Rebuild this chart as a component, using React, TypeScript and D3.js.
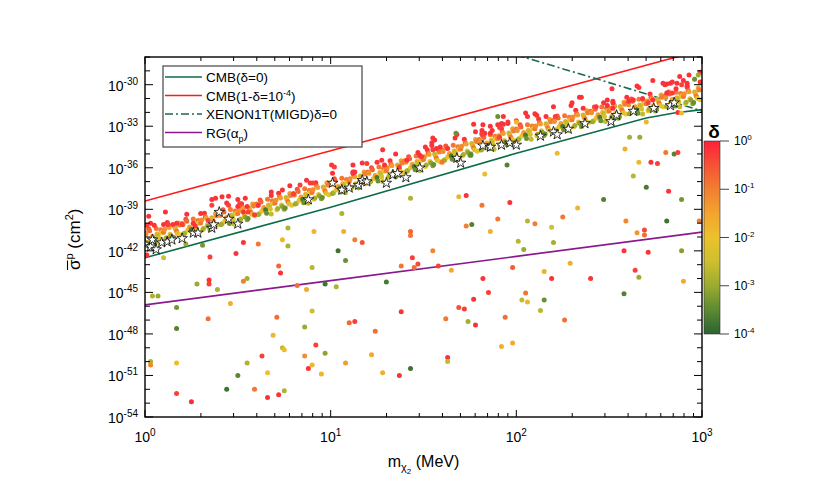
import React from 'react';
import * as d3 from 'd3';

// all curve / point values are [log10 m (MeV), log10 sigma (cm^2)] or [.., .., log10 delta]
const massTicks = [1, 10, 100, 1000];
const sigmaMajorExps = [-54, -51, -48, -45, -42, -39, -36, -33, -30];
const deltaTickExps = [0, -1, -2, -3, -4];

const cmbZero = [[0, -42.5], [1, -38.85], [2, -34.95], [2.7, -32.4], [2.85, -32.05], [3, -31.8]];
const cmbNearOne = [[0, -38.4], [1, -34.77], [2, -31.14], [3, -27.5]];
const xenonMigd = [[2.0, -27.85], [2.5, -29.85], [3.0, -31.9]];
const redGiant = [[0, -45.9], [1, -44.15], [2, -42.4], [3, -40.65]];

const bandPoints = [
  [0.00,-40.7,-0.9],[0.01,-41.45,-3.1],[0.02,-40.4,-0.5],[0.03,-41.2,-2.0],[0.04,-40.95,-1.4],
  [0.05,-41.13,-3.7],[0.06,-40.38,-0.9],[0.07,-40.88,-2.6],[0.08,-41.43,-2.6],[0.09,-40.68,-2.0],
  [0.10,-40.66,-0.9],[0.11,-41.16,-2.0],[0.12,-39.96,-0.2],[0.13,-40.31,-1.4],[0.14,-40.91,-3.1],
  [0.15,-41.14,-3.1],[0.16,-40.29,-2.6],[0.17,-40.59,-0.9],[0.18,-39.99,-1.4],[0.19,-40.84,-2.0],
  [0.20,-40.02,-0.9],[0.21,-40.77,-3.1],[0.22,-39.72,-0.5],[0.23,-40.52,-2.0],[0.24,-40.27,-1.4],
  [0.25,-40.45,-3.7],[0.26,-39.7,-0.9],[0.27,-40.2,-2.6],[0.28,-40.75,-2.6],[0.29,-40.0,-2.0],
  [0.30,-39.98,-0.9],[0.31,-40.48,-2.0],[0.32,-39.28,-0.2],[0.33,-39.63,-1.4],[0.34,-40.23,-3.1],
  [0.35,-40.46,-3.1],[0.36,-39.61,-2.6],[0.37,-39.91,-0.9],[0.38,-39.31,-1.4],[0.39,-40.16,-2.0],
  [0.40,-39.34,-0.9],[0.41,-40.09,-3.1],[0.42,-39.04,-0.5],[0.43,-39.84,-2.0],[0.44,-39.59,-1.4],
  [0.45,-39.77,-3.7],[0.46,-39.02,-0.9],[0.47,-39.52,-2.6],[0.48,-40.07,-2.6],[0.49,-39.32,-2.0],
  [0.50,-39.3,-0.9],[0.51,-39.8,-2.0],[0.52,-38.6,-0.2],[0.53,-38.95,-1.4],[0.54,-39.55,-3.1],
  [0.55,-39.76,-3.1],[0.56,-38.91,-2.6],[0.57,-39.21,-0.9],[0.58,-38.61,-1.4],[0.59,-39.46,-2.0],
  [0.60,-38.62,-0.9],[0.61,-39.37,-3.1],[0.62,-38.32,-0.5],[0.63,-39.12,-2.0],[0.64,-38.87,-1.4],
  [0.65,-39.03,-3.7],[0.66,-38.28,-0.9],[0.67,-38.78,-2.6],[0.68,-39.33,-2.6],[0.69,-38.58,-2.0],
  [0.70,-38.54,-0.9],[0.71,-39.04,-2.0],[0.72,-37.84,-0.2],[0.73,-38.19,-1.4],[0.74,-38.79,-3.1],
  [0.75,-39.0,-3.1],[0.76,-38.15,-2.6],[0.77,-38.45,-0.9],[0.78,-37.85,-1.4],[0.79,-38.7,-2.0],
  [0.80,-37.86,-0.9],[0.81,-38.61,-3.1],[0.82,-37.56,-0.5],[0.83,-38.36,-2.0],[0.84,-38.11,-1.4],
  [0.85,-38.27,-3.7],[0.86,-37.52,-0.9],[0.87,-38.02,-2.6],[0.88,-38.57,-2.6],[0.89,-37.82,-2.0],
  [0.90,-37.78,-0.9],[0.91,-38.28,-2.0],[0.92,-37.08,-0.2],[0.93,-37.43,-1.4],[0.94,-38.03,-3.1],
  [0.95,-38.24,-3.1],[0.96,-37.39,-2.6],[0.97,-37.69,-0.9],[0.98,-37.09,-1.4],[0.99,-37.94,-2.0],
  [1.00,-37.1,-0.9],[1.01,-37.85,-3.1],[1.02,-36.8,-0.5],[1.03,-37.6,-2.0],[1.04,-37.35,-1.4],
  [1.05,-37.5,-3.7],[1.06,-36.75,-0.9],[1.07,-37.25,-2.6],[1.08,-37.8,-2.6],[1.09,-37.05,-2.0],
  [1.10,-37.0,-0.9],[1.11,-37.5,-2.0],[1.12,-36.3,-0.2],[1.13,-36.65,-1.4],[1.14,-37.25,-3.1],
  [1.15,-37.45,-3.1],[1.16,-36.6,-2.6],[1.17,-36.9,-0.9],[1.18,-36.3,-1.4],[1.19,-37.15,-2.0],
  [1.20,-36.3,-0.9],[1.21,-37.05,-3.1],[1.22,-36.0,-0.5],[1.23,-36.8,-2.0],[1.24,-36.55,-1.4],
  [1.25,-36.7,-3.7],[1.26,-35.95,-0.9],[1.27,-36.45,-2.6],[1.28,-37.0,-2.6],[1.29,-36.25,-2.0],
  [1.30,-36.2,-0.9],[1.31,-36.7,-2.0],[1.32,-35.5,-0.2],[1.33,-35.85,-1.4],[1.34,-36.45,-3.1],
  [1.35,-36.65,-3.1],[1.36,-35.8,-2.6],[1.37,-36.1,-0.9],[1.38,-35.5,-1.4],[1.39,-36.35,-2.0],
  [1.40,-35.5,-0.9],[1.41,-36.25,-3.1],[1.42,-35.2,-0.5],[1.43,-36.0,-2.0],[1.44,-35.75,-1.4],
  [1.45,-35.9,-3.7],[1.46,-35.15,-0.9],[1.47,-35.65,-2.6],[1.48,-36.2,-2.6],[1.49,-35.45,-2.0],
  [1.50,-35.4,-0.9],[1.51,-35.9,-2.0],[1.52,-34.7,-0.2],[1.53,-35.05,-1.4],[1.54,-35.65,-3.1],
  [1.55,-35.86,-3.1],[1.56,-35.01,-2.6],[1.57,-35.31,-0.9],[1.58,-34.71,-1.4],[1.59,-35.56,-2.0],
  [1.60,-34.72,-0.9],[1.61,-35.47,-3.1],[1.62,-34.42,-0.5],[1.63,-35.22,-2.0],[1.64,-34.97,-1.4],
  [1.65,-35.13,-3.7],[1.66,-34.38,-0.9],[1.67,-34.88,-2.6],[1.68,-35.43,-2.6],[1.69,-34.68,-2.0],
  [1.70,-34.64,-0.9],[1.71,-35.14,-2.0],[1.72,-33.94,-0.2],[1.73,-34.29,-1.4],[1.74,-34.89,-3.1],
  [1.75,-35.1,-3.1],[1.76,-34.25,-2.6],[1.77,-34.55,-0.9],[1.78,-33.95,-1.4],[1.79,-34.8,-2.0],
  [1.80,-33.96,-0.9],[1.81,-34.71,-3.1],[1.82,-33.66,-0.5],[1.83,-34.46,-2.0],[1.84,-34.21,-1.4],
  [1.85,-34.37,-3.7],[1.86,-33.62,-0.9],[1.87,-34.12,-2.6],[1.88,-34.67,-2.6],[1.89,-33.92,-2.0],
  [1.90,-33.88,-0.9],[1.91,-34.38,-2.0],[1.92,-33.18,-0.2],[1.93,-33.53,-1.4],[1.94,-34.13,-3.1],
  [1.95,-34.34,-3.1],[1.96,-33.49,-2.6],[1.97,-33.79,-0.9],[1.98,-33.19,-1.4],[1.99,-34.04,-2.0],
  [2.00,-33.2,-0.9],[2.01,-33.95,-3.1],[2.02,-32.9,-0.5],[2.03,-33.7,-2.0],[2.04,-33.45,-1.4],
  [2.05,-33.64,-3.7],[2.06,-32.89,-0.9],[2.07,-33.39,-2.6],[2.08,-33.94,-2.6],[2.09,-33.19,-2.0],
  [2.10,-33.18,-0.9],[2.11,-33.68,-2.0],[2.12,-32.48,-0.2],[2.13,-32.83,-1.4],[2.14,-33.43,-3.1],
  [2.15,-33.67,-3.1],[2.16,-32.82,-2.6],[2.17,-33.12,-0.9],[2.18,-32.52,-1.4],[2.19,-33.37,-2.0],
  [2.20,-32.56,-0.9],[2.21,-33.31,-3.1],[2.22,-32.26,-0.5],[2.23,-33.06,-2.0],[2.24,-32.81,-1.4],
  [2.25,-33.0,-3.7],[2.26,-32.25,-0.9],[2.27,-32.75,-2.6],[2.28,-33.3,-2.6],[2.29,-32.55,-2.0],
  [2.30,-32.54,-0.9],[2.31,-33.04,-2.0],[2.32,-31.84,-0.2],[2.33,-32.19,-1.4],[2.34,-32.79,-3.1],
  [2.35,-33.03,-3.1],[2.36,-32.18,-2.6],[2.37,-32.48,-0.9],[2.38,-31.88,-1.4],[2.39,-32.73,-2.0],
  [2.40,-31.92,-0.9],[2.41,-32.67,-3.1],[2.42,-31.62,-0.5],[2.43,-32.42,-2.0],[2.44,-32.17,-1.4],
  [2.45,-32.36,-3.7],[2.46,-31.61,-0.9],[2.47,-32.11,-2.6],[2.48,-32.66,-2.6],[2.49,-31.91,-2.0],
  [2.50,-31.9,-0.9],[2.51,-32.4,-2.0],[2.52,-31.2,-0.2],[2.53,-31.55,-1.4],[2.54,-32.15,-3.1],
  [2.55,-32.42,-3.1],[2.56,-31.57,-2.6],[2.57,-31.87,-0.9],[2.58,-31.27,-1.4],[2.59,-32.12,-2.0],
  [2.60,-31.34,-0.9],[2.61,-32.09,-3.1],[2.62,-31.04,-0.5],[2.63,-31.84,-2.0],[2.64,-31.59,-1.4],
  [2.65,-31.81,-3.7],[2.66,-31.06,-0.9],[2.67,-31.56,-2.6],[2.68,-32.11,-2.6],[2.69,-31.36,-2.0],
  [2.70,-31.38,-0.9],[2.71,-31.88,-2.0],[2.72,-30.68,-0.2],[2.73,-31.03,-1.4],[2.74,-31.63,-3.1],
  [2.75,-31.9,-3.1],[2.76,-31.05,-2.6],[2.77,-31.35,-0.9],[2.78,-30.75,-1.4],[2.79,-31.6,-2.0],
  [2.80,-30.82,-0.9],[2.81,-31.57,-3.1],[2.82,-30.52,-0.5],[2.83,-31.32,-2.0],[2.84,-31.07,-1.4],
  [2.85,-31.29,-3.7],[2.86,-30.54,-0.9],[2.87,-31.04,-2.6],[2.88,-31.59,-2.6],[2.89,-30.84,-2.0],
  [2.90,-30.86,-0.9],[2.91,-31.36,-2.0],[2.92,-30.16,-0.2],[2.93,-30.51,-1.4],[2.94,-31.11,-3.1],
  [2.95,-31.38,-3.1],[2.96,-30.53,-2.6],[2.97,-30.83,-0.9],[2.98,-30.23,-1.4],[2.99,-31.08,-2.0],
];

// second layer of the dense band, read between the first
const bandFill = [
  [0.005,-40.8,-1.2],[0.015,-41.4,-2.9],[0.025,-40.55,-0.7],[0.035,-41.15,-1.9],
  [0.055,-41.38,-3.4],[0.065,-40.78,-1.6],[0.075,-41.08,-2.3],[0.085,-40.48,-1.0],
  [0.105,-40.46,-1.2],[0.115,-41.06,-2.9],[0.125,-40.21,-0.7],[0.135,-40.81,-1.9],
  [0.155,-41.04,-3.4],[0.165,-40.44,-1.6],[0.175,-40.74,-2.3],[0.185,-40.14,-1.0],
  [0.205,-40.12,-1.2],[0.215,-40.72,-2.9],[0.225,-39.87,-0.7],[0.235,-40.47,-1.9],
  [0.255,-40.7,-3.4],[0.265,-40.1,-1.6],[0.275,-40.4,-2.3],[0.285,-39.8,-1.0],
  [0.305,-39.78,-1.2],[0.315,-40.38,-2.9],[0.325,-39.53,-0.7],[0.335,-40.13,-1.9],
  [0.355,-40.36,-3.4],[0.365,-39.76,-1.6],[0.375,-40.06,-2.3],[0.385,-39.46,-1.0],
  [0.405,-39.44,-1.2],[0.415,-40.04,-2.9],[0.425,-39.19,-0.7],[0.435,-39.79,-1.9],
  [0.455,-40.02,-3.4],[0.465,-39.42,-1.6],[0.475,-39.72,-2.3],[0.485,-39.12,-1.0],
  [0.505,-39.1,-1.2],[0.515,-39.7,-2.9],[0.525,-38.85,-0.7],[0.535,-39.45,-1.9],
  [0.555,-39.66,-3.4],[0.565,-39.06,-1.6],[0.575,-39.36,-2.3],[0.585,-38.76,-1.0],
  [0.605,-38.72,-1.2],[0.615,-39.32,-2.9],[0.625,-38.47,-0.7],[0.635,-39.07,-1.9],
  [0.655,-39.28,-3.4],[0.665,-38.68,-1.6],[0.675,-38.98,-2.3],[0.685,-38.38,-1.0],
  [0.705,-38.34,-1.2],[0.715,-38.94,-2.9],[0.725,-38.09,-0.7],[0.735,-38.69,-1.9],
  [0.755,-38.9,-3.4],[0.765,-38.3,-1.6],[0.775,-38.6,-2.3],[0.785,-38.0,-1.0],
  [0.805,-37.96,-1.2],[0.815,-38.56,-2.9],[0.825,-37.71,-0.7],[0.835,-38.31,-1.9],
  [0.855,-38.52,-3.4],[0.865,-37.92,-1.6],[0.875,-38.22,-2.3],[0.885,-37.62,-1.0],
  [0.905,-37.58,-1.2],[0.915,-38.18,-2.9],[0.925,-37.33,-0.7],[0.935,-37.93,-1.9],
  [0.955,-38.14,-3.4],[0.965,-37.54,-1.6],[0.975,-37.84,-2.3],[0.985,-37.24,-1.0],
  [1.005,-37.2,-1.2],[1.015,-37.8,-2.9],[1.025,-36.95,-0.7],[1.035,-37.55,-1.9],
  [1.055,-37.75,-3.4],[1.065,-37.15,-1.6],[1.075,-37.45,-2.3],[1.085,-36.85,-1.0],
  [1.105,-36.8,-1.2],[1.115,-37.4,-2.9],[1.125,-36.55,-0.7],[1.135,-37.15,-1.9],
  [1.155,-37.35,-3.4],[1.165,-36.75,-1.6],[1.175,-37.05,-2.3],[1.185,-36.45,-1.0],
  [1.205,-36.4,-1.2],[1.215,-37.0,-2.9],[1.225,-36.15,-0.7],[1.235,-36.75,-1.9],
  [1.255,-36.95,-3.4],[1.265,-36.35,-1.6],[1.275,-36.65,-2.3],[1.285,-36.05,-1.0],
  [1.305,-36.0,-1.2],[1.315,-36.6,-2.9],[1.325,-35.75,-0.7],[1.335,-36.35,-1.9],
  [1.355,-36.55,-3.4],[1.365,-35.95,-1.6],[1.375,-36.25,-2.3],[1.385,-35.65,-1.0],
  [1.405,-35.6,-1.2],[1.415,-36.2,-2.9],[1.425,-35.35,-0.7],[1.435,-35.95,-1.9],
  [1.455,-36.15,-3.4],[1.465,-35.55,-1.6],[1.475,-35.85,-2.3],[1.485,-35.25,-1.0],
  [1.505,-35.2,-1.2],[1.515,-35.8,-2.9],[1.525,-34.95,-0.7],[1.535,-35.55,-1.9],
  [1.555,-35.76,-3.4],[1.565,-35.16,-1.6],[1.575,-35.46,-2.3],[1.585,-34.86,-1.0],
  [1.605,-34.82,-1.2],[1.615,-35.42,-2.9],[1.625,-34.57,-0.7],[1.635,-35.17,-1.9],
  [1.655,-35.38,-3.4],[1.665,-34.78,-1.6],[1.675,-35.08,-2.3],[1.685,-34.48,-1.0],
  [1.705,-34.44,-1.2],[1.715,-35.04,-2.9],[1.725,-34.19,-0.7],[1.735,-34.79,-1.9],
  [1.755,-35.0,-3.4],[1.765,-34.4,-1.6],[1.775,-34.7,-2.3],[1.785,-34.1,-1.0],
  [1.805,-34.06,-1.2],[1.815,-34.66,-2.9],[1.825,-33.81,-0.7],[1.835,-34.41,-1.9],
  [1.855,-34.62,-3.4],[1.865,-34.02,-1.6],[1.875,-34.32,-2.3],[1.885,-33.72,-1.0],
  [1.905,-33.68,-1.2],[1.915,-34.28,-2.9],[1.925,-33.43,-0.7],[1.935,-34.03,-1.9],
  [1.955,-34.24,-3.4],[1.965,-33.64,-1.6],[1.975,-33.94,-2.3],[1.985,-33.34,-1.0],
  [2.005,-33.3,-1.2],[2.015,-33.9,-2.9],[2.025,-33.05,-0.7],[2.035,-33.65,-1.9],
  [2.055,-33.89,-3.4],[2.065,-33.29,-1.6],[2.075,-33.59,-2.3],[2.085,-32.99,-1.0],
  [2.105,-32.98,-1.2],[2.115,-33.58,-2.9],[2.125,-32.73,-0.7],[2.135,-33.33,-1.9],
  [2.155,-33.57,-3.4],[2.165,-32.97,-1.6],[2.175,-33.27,-2.3],[2.185,-32.67,-1.0],
  [2.205,-32.66,-1.2],[2.215,-33.26,-2.9],[2.225,-32.41,-0.7],[2.235,-33.01,-1.9],
  [2.255,-33.25,-3.4],[2.265,-32.65,-1.6],[2.275,-32.95,-2.3],[2.285,-32.35,-1.0],
  [2.305,-32.34,-1.2],[2.315,-32.94,-2.9],[2.325,-32.09,-0.7],[2.335,-32.69,-1.9],
  [2.355,-32.93,-3.4],[2.365,-32.33,-1.6],[2.375,-32.63,-2.3],[2.385,-32.03,-1.0],
  [2.405,-32.02,-1.2],[2.415,-32.62,-2.9],[2.425,-31.77,-0.7],[2.435,-32.37,-1.9],
  [2.455,-32.61,-3.4],[2.465,-32.01,-1.6],[2.475,-32.31,-2.3],[2.485,-31.71,-1.0],
  [2.505,-31.7,-1.2],[2.515,-32.3,-2.9],[2.525,-31.45,-0.7],[2.535,-32.05,-1.9],
  [2.555,-32.32,-3.4],[2.565,-31.72,-1.6],[2.575,-32.02,-2.3],[2.585,-31.42,-1.0],
  [2.605,-31.44,-1.2],[2.615,-32.04,-2.9],[2.625,-31.19,-0.7],[2.635,-31.79,-1.9],
  [2.655,-32.06,-3.4],[2.665,-31.46,-1.6],[2.675,-31.76,-2.3],[2.685,-31.16,-1.0],
  [2.705,-31.18,-1.2],[2.715,-31.78,-2.9],[2.725,-30.93,-0.7],[2.735,-31.53,-1.9],
  [2.755,-31.8,-3.4],[2.765,-31.2,-1.6],[2.775,-31.5,-2.3],[2.785,-30.9,-1.0],
  [2.805,-30.92,-1.2],[2.815,-31.52,-2.9],[2.825,-30.67,-0.7],[2.835,-31.27,-1.9],
  [2.855,-31.54,-3.4],[2.865,-30.94,-1.6],[2.875,-31.24,-2.3],[2.885,-30.64,-1.0],
  [2.905,-30.66,-1.2],[2.915,-31.26,-2.9],[2.925,-30.41,-0.7],[2.935,-31.01,-1.9],
  [2.955,-31.28,-3.4],[2.965,-30.68,-1.6],[2.975,-30.98,-2.3],[2.985,-30.38,-1.0],
];

const upperOutliers = [
  [0.11,-39.2,-0.2],[0.225,-39.35,-0.2],[0.30,-39.3,-0.2],[0.36,-38.7,-0.3],[0.36,-38.3,-0.2],
  [0.38,-38.2,-0.2],[0.415,-38.1,-0.2],[0.45,-38.05,-0.2],[0.44,-38.55,-0.2],[0.45,-38.7,-0.3],
  [0.50,-38.3,-0.2],[0.50,-38.8,-0.2],[0.51,-38.6,-0.3],[0.54,-38.2,-0.2],[0.55,-38.8,-0.2],
  [0.555,-39.2,-0.3],[0.61,-38.7,-0.2],[0.59,-39.4,-0.3],[0.68,-38.0,-0.2],[0.68,-37.75,-0.2],
  [0.03,-40.0,-0.2],[0.01,-40.15,-0.3],[0.05,-40.15,-0.2],[0.10,-40.1,-0.2],[0.125,-40.1,-0.3],
  [0.15,-40.1,-0.2],[0.17,-40.0,-0.2],[0.20,-40.1,-0.3],[0.26,-40.0,-0.2],[0.27,-40.2,-0.2],
  [0.34,-39.8,-0.3],[0.53,-39.2,-0.2],[0.02,-39.5,-0.2],[0.01,-42.3,-0.2],
  [0.74,-37.6,-0.2],[0.78,-37.3,-0.2],[0.80,-37.9,-0.3],
  [1.005,-35.8,-0.2],[1.01,-36.4,-0.2],[1.02,-35.95,-0.3],[1.12,-35.8,-0.2],[1.13,-36.3,-0.2],
  [1.17,-35.65,-0.2],[1.195,-35.7,-0.3],[1.12,-36.4,-0.2],[1.25,-35.6,-0.2],[1.29,-35.8,-0.2],
  [1.275,-35.45,-0.2],[1.28,-34.7,-0.2],[1.35,-35.0,-0.2],[1.37,-35.95,-0.3],[1.41,-35.45,-0.2],
  [1.47,-34.9,-0.2],[1.49,-35.2,-0.3],[1.51,-34.5,-0.2],[1.545,-34.4,-0.2],[1.56,-34.0,-0.2],
  [1.55,-34.7,-0.3],[1.59,-34.5,-0.2],[1.63,-34.6,-0.2],[1.68,-33.6,-0.2],[1.67,-33.85,-0.2],
  [1.77,-32.85,-0.2],[1.82,-32.9,-0.2],[1.815,-33.5,-0.2],[1.86,-33.5,-0.2],[1.91,-33.8,-0.3],
  [1.955,-32.8,-0.2],[2.0,-32.6,-0.2],[0.835,-37.25,-0.3],[0.87,-36.9,-0.2],[0.89,-37.1,-0.2],
  [0.905,-37.1,-0.3],[1.55,-33.85,-0.2],[1.545,-34.2,-0.2],[1.57,-34.6,-0.2],[1.48,-35.1,-0.2],
  [1.86,-33.0,-0.2],[1.815,-33.3,-0.2],[1.83,-33.5,-0.2],[1.78,-33.4,-0.2],[1.815,-33.6,-0.3],
  [1.87,-33.3,-0.2],[1.90,-32.9,-0.2],[1.93,-32.85,-0.2],[1.91,-33.1,-0.3],[1.92,-32.8,-0.2],
  [1.955,-32.7,-0.2],[1.93,-32.3,-0.2],
  [2.20,-31.6,-0.2],[2.30,-31.3,-0.2],[2.295,-31.5,-0.2],[2.36,-31.7,-0.2],[2.05,-32.05,-0.2],
  [2.06,-32.3,-0.2],[2.11,-32.2,-0.2],[2.16,-32.3,-0.2],[2.21,-32.3,-0.3],[2.10,-32.1,-0.2],
  [2.49,-31.5,-0.2],[2.52,-31.7,-0.2],[2.43,-31.6,-0.2],[2.52,-31.3,-0.2],[2.34,-30.9,-0.2],
  [2.35,-30.9,-0.2],[2.47,-31.3,-0.2],[2.49,-31.1,-0.2],
  [2.735,-29.7,-0.2],[2.65,-30.1,-0.2],[2.515,-30.3,-0.2],[2.79,-29.9,-0.2],[2.83,-29.9,-0.2],
  [2.865,-29.9,-0.2],[2.81,-30.6,-0.2],[2.84,-30.6,-0.3],[2.88,-29.4,-0.2],[2.93,-29.3,-0.2],
  [2.90,-29.7,-0.2],[2.86,-30.3,-0.2],[2.89,-30.0,-0.3],[2.92,-30.1,-0.2],[2.595,-30.9,-0.2],
  [2.605,-31.2,-0.2],[2.63,-31.1,-0.2],[2.68,-31.0,-0.2],[2.71,-31.3,-0.3],[2.735,-31.1,-0.2],
  [2.87,-32.0,-0.2],[2.99,-29.8,-0.2],[2.99,-29.1,-0.2],[2.66,-30.2,-0.2],[2.80,-30.0,-0.2],
  [2.81,-29.95,-0.2],[2.84,-29.8,-0.2],[2.92,-29.9,-0.2],[2.98,-29.3,-3.0],[2.96,-29.6,-3.4],
  [1.675,-33.5,-3.4],[1.90,-32.3,-3.4],[2.0,-32.7,-1.9],[2.70,-32.7,-1.8],[2.89,-32.05,-1.9],
];

const lowerScatter = [
  [0.04,-45.26,-2.8],[0.07,-45.26,-3.0],[0.17,-46.1,-3.3],[0.17,-47.6,-3.6],[0.03,-50.0,-2.8],
  [0.03,-50.25,-1.1],[0.17,-50.1,-1.9],[0.17,-52.3,-0.3],[0.25,-52.9,-0.1],[0.10,-42.5,-2.5],
  [0.22,-41.5,-3.0],[0.31,-41.6,-3.3],[0.28,-44.4,-3.0],[0.35,-42.45,-0.3],[0.345,-44.1,-0.2],
  [0.345,-44.4,-0.3],[0.39,-44.8,-2.8],[0.34,-46.9,-0.8],[0.46,-45.8,-1.7],[0.49,-42.2,-0.2],
  [0.53,-41.4,-0.2],[0.61,-41.5,-0.9],[0.53,-44.2,-1.0],[0.55,-44.0,-2.9],[0.50,-51.0,-3.5],
  [0.44,-52.0,-3.8],[0.55,-50.1,-2.8],[0.59,-52.0,-0.9],[0.63,-49.6,-0.3],[0.66,-50.8,-2.0],
  [0.66,-52.6,-0.2],[0.72,-52.4,-0.2],[0.75,-52.1,-2.8],[0.69,-48.1,-1.8],[0.71,-46.8,-0.8],
  [0.74,-49.0,-2.6],[0.75,-49.15,-1.9],[0.72,-43.1,-0.7],[0.73,-43.6,-0.2],[0.74,-41.2,-1.8],
  [0.77,-40.35,-2.8],[0.77,-41.65,-2.8],[0.82,-44.5,-0.8],[0.87,-44.8,-1.6],[0.86,-47.5,-3.0],
  [0.90,-46.35,-2.5],[0.92,-48.8,-0.3],[0.86,-49.6,-1.2],[0.88,-50.5,-0.2],[0.90,-50.25,-1.8],
  [0.95,-50.9,-1.8],[0.97,-49.4,-3.1],[0.90,-43.2,-2.7],[0.91,-40.6,-1.8],[0.97,-44.4,-3.8],
  [1.03,-44.6,-2.8],[1.04,-42.0,-3.8],[1.08,-42.7,-3.4],[1.07,-40.6,-1.7],[1.13,-41.2,-1.0],
  [1.17,-41.4,-0.5],[1.10,-47.2,-0.7],[1.13,-47.1,-0.3],[1.08,-50.1,-1.4],[1.22,-49.5,-1.6],
  [1.24,-47.8,-0.8],[1.28,-50.8,-1.7],[1.30,-44.25,-3.7],[1.37,-51.0,-0.2],[1.43,-50.5,-3.8],
  [1.38,-46.4,-0.2],[1.38,-43.1,-0.9],[1.43,-40.9,-0.9],[1.43,-40.6,-0.7],[1.44,-42.5,-0.3],
  [1.45,-43.2,-0.8],[1.47,-42.95,-0.4],[1.55,-42.0,-1.1],[1.58,-43.1,-0.3],[1.62,-46.9,-0.9],
  [1.63,-49.7,-0.2],[1.63,-50.0,-2.6],[1.65,-43.4,-1.6],[1.69,-46.1,-0.5],[1.72,-46.2,-0.3],
  [1.74,-47.1,-2.9],[1.78,-47.35,-0.2],[1.77,-45.5,-0.2],[1.82,-44.0,-0.2],[1.85,-45.0,-0.3],
  [1.73,-40.2,-1.0],[1.76,-40.1,-3.6],[1.86,-40.6,-1.7],[1.92,-48.9,-1.7],[1.98,-48.65,-1.6],
  [1.94,-46.8,-0.8],[1.98,-43.2,-0.6],[2.01,-41.3,-2.7],[2.04,-41.9,-3.0],[2.03,-45.55,-2.6],
  [2.06,-45.7,-1.8],[2.05,-45.05,-0.9],[2.06,-39.85,-2.7],[2.10,-40.05,-1.0],[2.13,-46.3,-2.7],
  [2.15,-43.5,-1.7],[2.15,-45.55,-3.4],[2.19,-44.0,-0.2],[2.19,-40.3,-2.4],[2.20,-41.4,-2.9],
  [2.26,-47.0,-0.8],[2.29,-42.9,-1.7],[2.40,-44.0,-0.2],[2.58,-42.0,-0.2],[2.58,-45.1,-3.6],
  [2.59,-39.85,-1.1],[2.64,-43.4,-0.3],[2.65,-40.7,-1.3],[2.66,-43.9,-3.0],[2.69,-40.85,-0.8],
  [2.69,-40.5,-0.4],[2.71,-42.1,-0.2],[2.81,-39.85,-3.8],[2.89,-42.0,-3.2],[2.90,-44.2,-1.6],
  [1.43,-38.2,-2.8],[1.06,-39.3,-2.8],[1.60,-35.6,-0.9],[1.755,-35.1,-3.5],[1.83,-36.45,-1.9],
  [1.69,-38.1,-1.8],[1.73,-38.0,-0.2],[1.95,-35.8,-3.6],[1.965,-38.5,-0.2],[1.815,-38.7,-0.9],
  [1.90,-39.7,-0.9],[2.25,-39.55,-0.9],[2.33,-38.9,-1.8],[2.22,-34.95,-1.9],[2.47,-38.3,-3.6],
  [2.585,-34.65,-1.7],[2.61,-33.8,-2.8],[2.665,-33.8,-3.0],[2.66,-35.6,-1.8],[2.63,-36.6,-2.7],
  [2.70,-37.4,-3.7],[2.725,-35.6,-0.2],[2.76,-35.7,-0.3],[2.805,-34.9,-0.9],[2.85,-35.0,-3.6],
  [2.87,-34.9,-0.3],[2.82,-37.7,-0.2],[2.89,-38.3,-3.3],[2.985,-39.85,-1.0],
];

const starPoints = [
  [0.0,-41.5],[0.03,-41.7],[0.04,-41.2],[0.06,-41.9],[0.09,-41.4],[0.12,-41.35],[0.145,-41.2],
  [0.20,-41.1],[0.26,-40.7],[0.285,-40.7],[0.36,-40.35],[0.37,-40.1],[0.40,-39.2],[0.45,-39.7],
  [0.50,-40.05],[0.88,-38.3],[1.01,-37.1],[1.06,-37.6],[1.10,-37.45],[1.15,-37.25],[1.17,-36.9],
  [1.195,-37.0],[1.30,-37.1],[1.335,-36.5],[1.36,-36.4],[1.405,-36.7],[1.48,-36.0],[1.68,-35.3],
  [1.70,-35.65],[1.82,-34.4],[1.86,-34.5],[1.92,-34.35],[1.965,-34.2],[2.0,-34.35],[2.13,-33.7],
  [2.20,-33.4],[2.22,-33.6],[2.28,-33.2],[2.37,-32.8],[2.51,-32.65],[2.54,-32.2],[2.63,-31.9],
  [2.74,-31.7],[2.83,-31.5],[2.85,-31.3],
];

const deltaStops = [-4, -3.5, -3, -2.5, -2, -1.5, -1, -0.5, 0];
const deltaColors = ['#2b6333', '#5d8a31', '#9aab30', '#cdbf2e', '#ecc22c', '#f2a42e', '#f27f30', '#f65236', '#ff1f3a'];

const legendItems = [
  { color: '#0d6b48', dash: null, label: 'cmb0' },
  { color: '#ff1a1a', dash: null, label: 'cmb1' },
  { color: '#1b6a4a', dash: '8,3,2,3', label: 'xenon' },
  { color: '#8a1a8c', dash: null, label: 'rg' },
];

const FONT = '"Liberation Sans", Arial, Helvetica, sans-serif';

const App: React.FC = () => {
  const left = 145, right = 702, top = 57, bottom = 417;
  const x = d3.scaleLog().domain([1, 1000]).range([left, right]);
  const y = d3.scaleLog().domain([1e-54, 1e-28]).range([bottom, top]);
  const color = d3.scaleLinear<string>().domain(deltaStops).range(deltaColors).clamp(true);
  const cbTop = 141, cbBottom = 334, cbLeft = 704, cbRight = 720;
  const cy = d3.scaleLinear().domain([-4, 0]).range([cbBottom, cbTop]);

  const line = d3.line<number[]>()
    .x(d => x(Math.pow(10, d[0])))
    .y(d => y(Math.pow(10, d[1])));

  const px = (l: number) => x(Math.pow(10, l));
  const py = (s: number) => y(Math.pow(10, s));

  const star = d3.symbol().type(d3.symbolStar).size(34)();

  const xMinor: { v: number; major: boolean }[] = [];
  for (let dec = 0; dec < 3; dec++) {
    for (let k = 1; k < 10; k++) xMinor.push({ v: k * Math.pow(10, dec), major: k === 1 });
  }
  xMinor.push({ v: 1000, major: true });
  const yTicks = d3.range(-54, -27).map(e => ({ e, major: sigmaMajorExps.includes(e) }));

  // interleave the two band layers so colours mix like the original
  const band: number[][] = [];
  bandPoints.forEach((p, i) => {
    band.push(p);
    if (i % 5 < 4) {
      const f = bandFill[Math.floor(i / 5) * 4 + (i % 5)];
      if (f) band.push(f);
    }
  });
  const allPoints = [...band, ...lowerScatter, ...upperOutliers];

  return (
    <svg width={817} height={501} style={{ position: 'absolute', left: 0, top: 0, background: '#fff' }}
      fontFamily={FONT}>
      <defs>
        <clipPath id="plotClip">
          <rect x={left} y={top} width={right - left} height={bottom - top} />
        </clipPath>
        <linearGradient id="deltaGrad" x1="0" y1="1" x2="0" y2="0">
          {deltaStops.map((s, i) => (
            <stop key={i} offset={(s + 4) / 4} stopColor={deltaColors[i]} />
          ))}
        </linearGradient>
      </defs>

      <g clipPath="url(#plotClip)">
        <path d={line(cmbZero) || ''} fill="none" stroke="#0d6b48" strokeWidth={1.6} />
        <path d={line(cmbNearOne) || ''} fill="none" stroke="#ff1a1a" strokeWidth={1.6} />
        <path d={line(xenonMigd) || ''} fill="none" stroke="#1b6a4a" strokeWidth={1.6} strokeDasharray="8,3,2,3" />
        <path d={line(redGiant) || ''} fill="none" stroke="#8a1a8c" strokeWidth={1.6} />
        {allPoints.map((p, i) => (
          <circle key={i} cx={px(p[0])} cy={py(p[1])} r={2.5} fill={color(p[2])} />
        ))}
        {starPoints.map((p, i) => (
          <path key={'s' + i} d={star || ''} transform={`translate(${px(p[0])},${py(p[1])})`}
            fill="#fff" stroke="#000" strokeWidth={0.8} />
        ))}
      </g>

      {/* frame and ticks */}
      <rect x={left} y={top} width={right - left} height={bottom - top} fill="none" stroke="#000" strokeWidth={1.4} />
      {xMinor.map((t, i) => {
        const xx = x(t.v);
        const len = t.major ? 7 : 4;
        return (
          <g key={'xt' + i} stroke="#000" strokeWidth={1}>
            <line x1={xx} x2={xx} y1={bottom} y2={bottom - len} />
            <line x1={xx} x2={xx} y1={top} y2={top + len} />
          </g>
        );
      })}
      {yTicks.map((t, i) => {
        const yy = y(Math.pow(10, t.e));
        const len = t.major ? 8 : 5;
        return (
          <g key={'yt' + i} stroke="#000" strokeWidth={1}>
            <line x1={left} x2={left + len} y1={yy} y2={yy} />
            <line x1={right} x2={right - len} y1={yy} y2={yy} />
          </g>
        );
      })}

      {/* tick labels */}
      {massTicks.map((m, i) => (
        <text key={'xl' + i} x={x(m)} y={442} textAnchor="middle" fontSize={14} fill="#000">
          <tspan>10</tspan>
          <tspan dy={-6} fontSize={10}>{String(Math.round(Math.log10(m)))}</tspan>
        </text>
      ))}
      {sigmaMajorExps.map((e, i) => (
        <text key={'yl' + i} x={138} y={y(Math.pow(10, e)) + 6} textAnchor="end" fontSize={14} fill="#000">
          <tspan>10</tspan>
          <tspan dy={-6} fontSize={10}>{String(e)}</tspan>
        </text>
      ))}

      {/* axis titles */}
      <text x={(left + right) / 2} y={467} textAnchor="middle" fontSize={16} fill="#000">
        <tspan>m</tspan>
        <tspan dy={4} fontSize={11}>χ</tspan>
        <tspan dy={3} fontSize={8}>2</tspan>
        <tspan dy={-7} fontSize={16}> (MeV)</tspan>
      </text>
      <g transform="translate(80,240) rotate(-90)">
        <text x={-30} y={0} fontSize={17} fill="#000">
          <tspan>σ</tspan>
          <tspan dy={-7} fontSize={11}>p</tspan>
          <tspan dy={7} fontSize={17}> (cm</tspan>
          <tspan dy={-7} fontSize={11}>2</tspan>
          <tspan dy={7} fontSize={17}>)</tspan>
        </text>
        <line x1={-30} x2={-20.5} y1={-12.5} y2={-12.5} stroke="#000" strokeWidth={1.1} />
      </g>

      {/* colour bar */}
      <rect x={cbLeft} y={cbTop} width={cbRight - cbLeft} height={cbBottom - cbTop} fill="url(#deltaGrad)" />
      <rect x={cbLeft} y={cbTop} width={cbRight - cbLeft} height={cbBottom - cbTop} fill="none" stroke="#333" strokeWidth={0.6} />
      {deltaTickExps.map((e, i) => (
        <g key={'cb' + i}>
          <line x1={cbRight} x2={cbRight + 9} y1={cy(e)} y2={cy(e)} stroke="#444" strokeWidth={1} />
          <text x={734} y={cy(e) + 4} fontSize={12} fill="#000">
            <tspan>10</tspan>
            <tspan dy={-5} fontSize={8}>{String(e)}</tspan>
          </text>
        </g>
      ))}
      <text x={714} y={138} textAnchor="middle" fontSize={19} fontWeight="bold" fill="#000">δ</text>

      {/* legend */}
      <rect x={163} y={66} width={199} height={81} fill="#fff" stroke="#444" strokeWidth={1.2} />
      {legendItems.map((it, i) => {
        const ly = 77 + i * 18.5;
        return (
          <g key={'lg' + i}>
            <line x1={165} x2={202} y1={ly} y2={ly} stroke={it.color} strokeWidth={1.6}
              strokeDasharray={it.dash || undefined} />
            <text x={206} y={ly + 5} fontSize={13.5} fill="#000">
              {it.label === 'cmb0' && <tspan>CMB(δ=0)</tspan>}
              {it.label === 'cmb1' && (
                <>
                  <tspan>CMB(1-δ=10</tspan>
                  <tspan dy={-5} fontSize={9}>-4</tspan>
                  <tspan dy={5}>)</tspan>
                </>
              )}
              {it.label === 'xenon' && <tspan>XENON1T(MIGD)δ=0</tspan>}
              {it.label === 'rg' && (
                <>
                  <tspan>RG(α</tspan>
                  <tspan dy={4} fontSize={9}>p</tspan>
                  <tspan dy={-4}>)</tspan>
                </>
              )}
            </text>
          </g>
        );
      })}
    </svg>
  );
};

export default App;
